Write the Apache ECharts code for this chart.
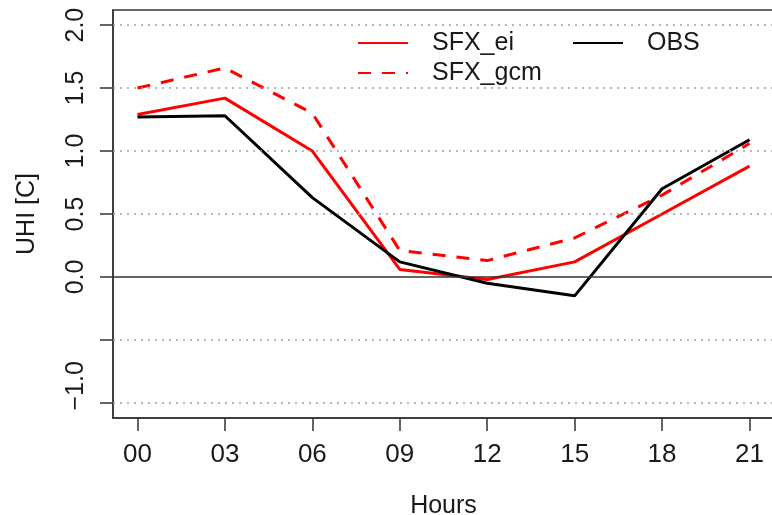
<!DOCTYPE html>
<html>
<head>
<meta charset="utf-8">
<script src="https://cdn.jsdelivr.net/npm/echarts@6/dist/echarts.min.js"></script>
<style>
  html, body { margin: 0; padding: 0; background: #ffffff; }
  #chart { width: 772px; height: 515px; }
</style>
</head>
<body>
<div id="chart"></div>
<script>
// Diurnal urban heat island: two SURFEX runs against observations
const hours = [0, 3, 6, 9, 12, 15, 18, 21];
const hourLabels = ['00', '03', '06', '09', '12', '15', '18', '21'];

const sfxEi  = [1.29, 1.42, 1.00, 0.06, -0.02, 0.12, 0.50, 0.88];
const sfxGcm = [1.50, 1.66, 1.30, 0.21, 0.13, 0.31, 0.65, 1.06];
const obs    = [1.27, 1.28, 0.63, 0.12, -0.05, -0.15, 0.70, 1.09];

const yTicks = [-1, -0.5, 0, 0.5, 1, 1.5, 2];
const yTickLabels = ['−1.0', '', '0.0', '0.5', '1.0', '1.5', '2.0'];
const dottedLevels = [-1, -0.5, 0.5, 1, 1.5, 2];

const FONT = "'Liberation Sans', Arial, Helvetica, sans-serif";
const INK = '#1a1a1a';
const AXIS = '#333333';
const DASH = [13, 11];

const pairs = vals => hours.map((h, i) => [h, vals[i]]);

const chart = echarts.init(document.getElementById('chart'), null, { renderer: 'canvas' });

// line-only legend keys: a very small item height shrinks the marker to nothing
const legendCommon = {
  orient: 'vertical',
  top: 28,
  padding: 0,
  itemGap: 0,
  itemWidth: 50,
  itemHeight: 1,
  textStyle: { fontFamily: FONT, fontSize: 25, color: INK, lineHeight: 30, padding: [0, 0, 0, 19] }
};

chart.setOption({
  animation: false,
  backgroundColor: '#ffffff',
  grid: {
    left: 113, right: -2, top: 10, bottom: 97,
    outerBoundsMode: 'none',
    show: true, borderColor: AXIS, borderWidth: 1.5, backgroundColor: 'transparent'
  },
  legend: [
    Object.assign({}, legendCommon, { left: 357, data: ['SFX_ei', 'SFX_gcm'] }),
    Object.assign({}, legendCommon, { left: 572, data: ['OBS'] })
  ],
  xAxis: {
    type: 'value',
    min: -0.84, max: 21.84,
    name: 'Hours', nameLocation: 'middle', nameGap: 76,
    nameTextStyle: { fontFamily: FONT, fontSize: 25, color: INK },
    axisLine: { show: true, onZero: false, lineStyle: { color: AXIS, width: 1.5 } },
    axisTick: { show: true, customValues: hours, length: 13, inside: false, lineStyle: { color: AXIS, width: 1.5 } },
    axisLabel: {
      customValues: hours, margin: 24,
      fontFamily: FONT, fontSize: 26, color: INK,
      formatter: v => hourLabels[hours.indexOf(v)]
    },
    splitLine: { show: false }
  },
  yAxis: {
    type: 'value',
    min: -1.12, max: 2.12,
    name: 'UHI [C]', nameLocation: 'middle', nameRotate: 90, nameGap: 73,
    nameTextStyle: { fontFamily: FONT, fontSize: 25, color: INK },
    axisLine: { show: true, onZero: false, lineStyle: { color: AXIS, width: 1.5 } },
    axisTick: { show: true, customValues: yTicks, length: 13, inside: false, lineStyle: { color: AXIS, width: 1.5 } },
    axisLabel: {
      customValues: yTicks, rotate: 90, margin: 24,
      fontFamily: FONT, fontSize: 25, color: INK,
      formatter: v => {
        const t = yTickLabels[yTicks.indexOf(v)];
        return v === -1 ? '{low|' + t + '}' : t;
      },
      rich: { low: { fontFamily: FONT, fontSize: 25, color: INK, padding: [0, 0, 0, 34] } }
    },
    splitLine: { show: false }
  },
  series: [
    {
      // reference levels: dotted grid and the solid zero line
      type: 'line', name: 'levels', data: [], z: 1, silent: true,
      markLine: {
        silent: true, symbol: 'none', label: { show: false }, animation: false,
        data: dottedLevels.map(v => ({ yAxis: v, lineStyle: { color: '#a0a0a0', width: 1.5, type: [2, 5] } }))
          .concat([{ yAxis: 0, lineStyle: { color: '#333333', width: 1.5, type: 'solid' } }])
      }
    },
    {
      name: 'SFX_ei', type: 'line', data: pairs(sfxEi), z: 3,
      symbol: 'none', color: '#ff0000',
      lineStyle: { color: '#ff0000', width: 3, type: 'solid' }
    },
    {
      name: 'SFX_gcm', type: 'line', data: pairs(sfxGcm), z: 3,
      symbol: 'none', color: '#ff0000',
      lineStyle: { color: '#ff0000', width: 3, type: DASH }
    },
    {
      name: 'OBS', type: 'line', data: pairs(obs), z: 4,
      symbol: 'none', color: '#000000',
      lineStyle: { color: '#000000', width: 3, type: 'solid' }
    }
  ]
});
</script>
</body>
</html>
